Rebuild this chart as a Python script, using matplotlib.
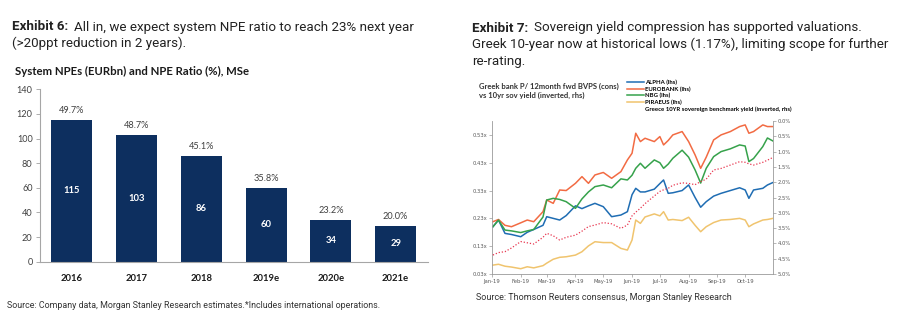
import matplotlib

matplotlib.use("Agg")
import matplotlib.pyplot as plt
import matplotlib.dates as mdates
from matplotlib.lines import Line2D
import pandas as pd

# ---- Exhibit 6: system NPEs ---- #
years = ["2016", "2017", "2018", "2019e", "2020e", "2021e"]
npe_bn = [115, 103, 86, 60, 34, 29]
npe_ratio = [49.7, 48.7, 45.1, 35.8, 23.2, 20.0]

# ---- Exhibit 7: P/BV vs 10yr yield ---- #
dates = [
    "2019-01-02", "2019-01-08", "2019-01-15", "2019-01-22", "2019-02-01", "2019-02-08",
    "2019-02-15", "2019-02-25", "2019-03-01", "2019-03-08", "2019-03-15", "2019-03-22",
    "2019-04-01", "2019-04-08", "2019-04-15", "2019-04-22", "2019-05-01", "2019-05-10",
    "2019-05-20", "2019-05-27", "2019-06-01", "2019-06-05", "2019-06-10", "2019-06-15",
    "2019-06-25", "2019-07-01", "2019-07-05", "2019-07-10", "2019-07-15", "2019-07-25",
    "2019-08-01", "2019-08-08", "2019-08-14", "2019-08-20", "2019-08-28", "2019-09-05",
    "2019-09-15", "2019-09-25", "2019-10-01", "2019-10-05", "2019-10-10", "2019-10-20",
    "2019-10-25", "2019-10-31",
]
alpha = [
    0.200, 0.224, 0.176, 0.172, 0.164, 0.180, 0.190, 0.205, 0.236, 0.230, 0.224, 0.240,
    0.275, 0.265, 0.275, 0.284, 0.272, 0.236, 0.242, 0.254, 0.315, 0.338, 0.325, 0.325,
    0.335, 0.355, 0.368, 0.320, 0.322, 0.330, 0.350, 0.305, 0.270, 0.290, 0.310, 0.320,
    0.330, 0.340, 0.332, 0.302, 0.332, 0.338, 0.350, 0.359,
]
eurobank = [
    0.218, 0.226, 0.205, 0.200, 0.214, 0.224, 0.218, 0.254, 0.296, 0.284, 0.332, 0.330,
    0.356, 0.380, 0.356, 0.386, 0.395, 0.374, 0.398, 0.440, 0.464, 0.536, 0.506, 0.518,
    0.506, 0.524, 0.494, 0.510, 0.530, 0.542, 0.506, 0.458, 0.410, 0.450, 0.512, 0.530,
    0.542, 0.560, 0.566, 0.536, 0.542, 0.566, 0.560, 0.560,
]
nbg = [
    0.200, 0.224, 0.188, 0.185, 0.179, 0.185, 0.190, 0.235, 0.296, 0.302, 0.298, 0.290,
    0.266, 0.300, 0.325, 0.344, 0.350, 0.340, 0.372, 0.368, 0.385, 0.410, 0.428, 0.410,
    0.440, 0.430, 0.410, 0.425, 0.446, 0.475, 0.450, 0.404, 0.357, 0.410, 0.452, 0.470,
    0.480, 0.494, 0.490, 0.434, 0.445, 0.488, 0.519, 0.508,
]
piraeus = [
    0.062, 0.065, 0.058, 0.055, 0.049, 0.056, 0.052, 0.060, 0.069, 0.083, 0.090, 0.092,
    0.098, 0.110, 0.131, 0.146, 0.143, 0.143, 0.122, 0.116, 0.152, 0.224, 0.212, 0.235,
    0.246, 0.239, 0.254, 0.224, 0.226, 0.222, 0.234, 0.205, 0.182, 0.200, 0.215, 0.224,
    0.226, 0.230, 0.224, 0.200, 0.210, 0.224, 0.226, 0.230,
]
gr10y = [
    4.38, 4.30, 4.27, 4.15, 3.94, 3.98, 4.02, 3.80, 3.67, 3.75, 3.89, 3.80,
    3.73, 3.60, 3.45, 3.40, 3.32, 3.36, 3.51, 3.40, 3.10, 2.98, 2.85, 2.70,
    2.45, 2.30, 2.25, 2.20, 2.10, 2.02, 2.04, 2.08, 1.98, 1.90, 1.60, 1.55,
    1.44, 1.33, 1.35, 1.40, 1.44, 1.35, 1.28, 1.19,
]
lhs_ticks = [0.03, 0.13, 0.23, 0.33, 0.43, 0.53]
rhs_ticks = [0.0, 0.5, 1.0, 1.5, 2.0, 2.5, 3.0, 3.5, 4.0, 4.5, 5.0]

NAVY = "#0d2f5f"
TXT = "#404040"
TITLE_FONT = ["Roboto", "DejaVu Sans"]
CHART_FONT = ["Lato", "DejaVu Sans"]
SRC_FONT = ["Liberation Sans Narrow", "Roboto", "DejaVu Sans"]
TSIZE = 9.6

fig = plt.figure(figsize=(9, 3.34), dpi=100)
W, H = 900, 334


def fx(px):
    return px / W


def fy(py):
    return 1 - py / H


# Headline texts
fig.text(fx(12.5), fy(27), "Exhibit 6:", fontsize=TSIZE, fontweight="bold", family=TITLE_FONT,
         color="#222222", va="center")
fig.text(fx(74.5), fy(27), "All in, we expect system NPE ratio to reach 23% next year",
         fontsize=TSIZE, family=TITLE_FONT, color="#222222", va="center")
fig.text(fx(12.5), fy(43.5), "(>20ppt reduction in 2 years).", fontsize=TSIZE,
         family=TITLE_FONT, color="#222222", va="center")
fig.text(fx(15), fy(71), "System NPEs (EURbn) and NPE Ratio (%), MSe", fontsize=8.2,
         fontweight="bold", family=CHART_FONT, color="#1a1a1a", va="center")

fig.text(fx(472.5), fy(28), "Exhibit 7:", fontsize=TSIZE, fontweight="bold", family=TITLE_FONT,
         color="#222222", va="center")
fig.text(fx(534.5), fy(28), "Sovereign yield compression has supported valuations.",
         fontsize=TSIZE, family=TITLE_FONT, color="#222222", va="center")
fig.text(fx(472.5), fy(44.5),
         "Greek 10-year now at historical lows (1.17%), limiting scope for further",
         fontsize=TSIZE, family=TITLE_FONT, color="#222222", va="center")
fig.text(fx(472.5), fy(61), "re-rating.", fontsize=TSIZE, family=TITLE_FONT,
         color="#222222", va="center")

# ---- Left chart ---- #
ax1 = fig.add_axes([fx(39.5), fy(261.7), fx(428 - 39.5), (261.7 - 89.3) / H])
x = list(range(len(years)))
bars = ax1.bar(x, npe_bn, width=0.63, color=NAVY)
for b, v, r in zip(bars, npe_bn, npe_ratio):
    ax1.text(b.get_x() + b.get_width() / 2, v / 2, f"{v}", ha="center", va="center",
             color="white", fontsize=6.8, fontweight="bold", family=CHART_FONT)
    ax1.annotate(f"{r:.1f}%", (b.get_x() + b.get_width() / 2, v), xytext=(0, 3.5),
                 textcoords="offset points", ha="center", va="bottom", fontsize=6.6,
                 color=TXT, family=CHART_FONT)
ax1.set_xlim(-0.5, 5.5)
ax1.set_ylim(0, 140)
ax1.set_yticks(range(0, 141, 20))
ax1.set_xticks(x)
ax1.set_xticklabels(years, fontweight="bold", fontsize=6.8, family=CHART_FONT, color="#1a1a1a")
ax1.tick_params(axis="x", length=0, pad=9)
ax1.tick_params(axis="y", length=3, width=0.6, color="#a0a0a0", labelsize=6.6,
                labelcolor=TXT, pad=2)
for lab in ax1.get_yticklabels():
    lab.set_family(CHART_FONT)
for s in ["top", "right"]:
    ax1.spines[s].set_visible(False)
for s in ["left", "bottom"]:
    ax1.spines[s].set_color("#a6a6a6")
    ax1.spines[s].set_linewidth(0.8)

# ---- Right chart ---- #
d = pd.to_datetime(dates)
ax2 = fig.add_axes([fx(492), fy(274), fx(773 - 492), (274 - 121) / H])
ax3 = ax2.twinx()
l_alpha, = ax2.plot(d, alpha, color="#1f6db3", lw=1.1)
l_euro, = ax2.plot(d, eurobank, color="#f26b43", lw=1.1)
l_nbg, = ax2.plot(d, nbg, color="#36a24b", lw=1.1)
l_pir, = ax2.plot(d, piraeus, color="#f0c46e", lw=1.1)
l_yld, = ax3.plot(d, gr10y, color="#e8364f", lw=0.9, ls=(0, (1, 1.5)))
ax2.set_ylim(0.03, 0.58)
ax2.set_yticks(lhs_ticks)
ax2.set_yticklabels([f"{t:.2f}x" for t in lhs_ticks])
ax3.set_ylim(5.0, 0.0)
ax3.set_yticks(rhs_ticks)
ax3.set_yticklabels([f"{t:.1f}%" for t in rhs_ticks])
ax2.set_xlim(pd.Timestamp("2019-01-01"), pd.Timestamp("2019-10-31"))
ax2.xaxis.set_major_locator(mdates.MonthLocator())
ax2.xaxis.set_major_formatter(mdates.DateFormatter("%b-%y"))
for a in (ax2, ax3):
    a.tick_params(labelsize=3.8, labelcolor="#595959", length=2, width=0.5,
                  color="#9a9a9a", pad=1.5)
    for s in a.spines.values():
        s.set_color("#9a9a9a")
        s.set_linewidth(0.6)
    a.spines["top"].set_visible(False)
ax2.spines["right"].set_visible(False)
ax3.spines["left"].set_visible(False)
ax3.spines["bottom"].set_visible(False)

fig.text(fx(479), fy(86), "Greek bank P/ 12month fwd BVPS (cons)", fontsize=5.5,
         fontweight="bold", family=CHART_FONT, color="#333333", va="center")
fig.text(fx(479), fy(95), "vs 10yr sov yield (inverted, rhs)", fontsize=5.5,
         fontweight="bold", family=CHART_FONT, color="#333333", va="center")

handles = [l_alpha, l_euro, l_nbg, l_pir,
           Line2D([], [], color="white", lw=0)]
labels = ["ALPHA (lhs)", "EUROBANK (lhs)", "NBG (lhs)", "PIRAEUS (lhs)",
          "Greece 10YR sovereign benchmark yield (inverted, rhs)"]
leg = fig.legend(handles, labels, loc="upper left", bbox_to_anchor=(fx(627), fy(79.5)),
                 frameon=False, handlelength=2.8, handletextpad=0.25,
                 labelspacing=0.22, borderpad=0, borderaxespad=0,
                 prop={"family": CHART_FONT, "weight": "bold", "size": 4.3})

# Sources
fig.text(fx(7), fy(305), "Source: Company data, Morgan Stanley Research estimates.*Includes international operations.",
         fontsize=6.4, family=SRC_FONT, color="#333333", va="center")
fig.text(fx(476), fy(297), "Source: Thomson Reuters consensus, Morgan Stanley Research",
         fontsize=6.5, family=SRC_FONT, color="#333333", va="center")

fig.savefig("out.png", dpi=100, facecolor="white")
